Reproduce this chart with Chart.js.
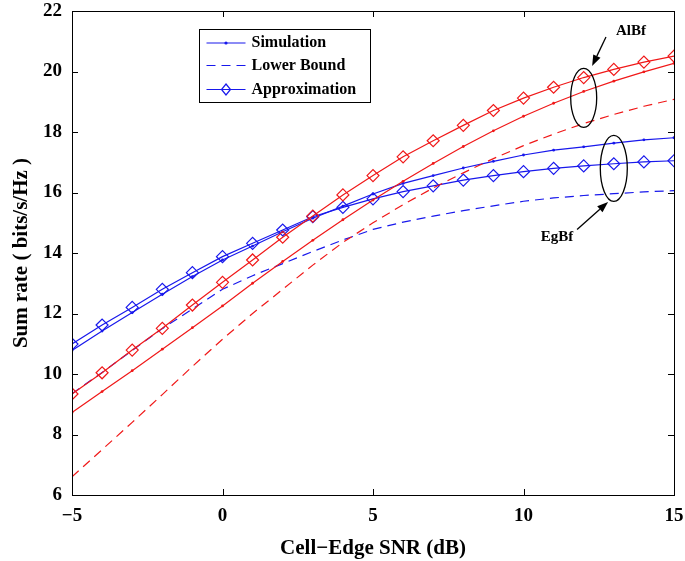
<!DOCTYPE html>
<html>
<head>
<meta charset="utf-8">
<script src="https://cdn.jsdelivr.net/npm/chart.js@4.4.1/dist/chart.umd.min.js"></script>
<style>
  html, body { margin: 0; padding: 0; background: #fff; }
  #wrap { width: 685px; height: 561px; position: relative; }
</style>
</head>
<body>
<div id="wrap"><canvas id="rateChart"></canvas></div>
<script>
// Cell-edge SNR (dB)
const snr = [-5, -4, -3, -2, -1, 0, 1, 2, 3, 4, 5, 6, 7, 8, 9, 10, 11, 12, 13, 14, 15];

// AlBf (red)
const alSimulation = [8.73, 9.42, 10.11, 10.82, 11.53, 12.25, 13.0, 13.72, 14.42, 15.1, 15.75,
    16.37, 16.96, 17.52, 18.04, 18.52, 18.95, 19.34, 19.68, 19.99, 20.27];
const alLowerBound = [6.6, 7.5, 8.4, 9.32, 10.25, 11.15, 12.0, 12.8, 13.6, 14.35, 15.0,
    15.6, 16.15, 16.65, 17.12, 17.55, 17.93, 18.28, 18.58, 18.85, 19.08];
const alApprox = [9.34, 10.04, 10.79, 11.51, 12.28, 13.03, 13.77, 14.52, 15.22, 15.92, 16.56,
    17.18, 17.71, 18.22, 18.71, 19.12, 19.48, 19.8, 20.07, 20.31, 20.51];

// EgBf (blue)
const egSimulation = [10.78, 11.42, 12.03, 12.64, 13.22, 13.77, 14.23, 14.7, 15.15, 15.55, 15.95,
    16.3, 16.56, 16.81, 17.03, 17.24, 17.4, 17.51, 17.63, 17.74, 17.81];
const egLowerBound = [9.35, 10.05, 10.78, 11.5, 12.15, 12.8, 13.25, 13.65, 14.05, 14.43, 14.78,
    15.02, 15.22, 15.4, 15.56, 15.71, 15.82, 15.9, 15.96, 16.02, 16.06];
const egApprox = [10.99, 11.62, 12.2, 12.8, 13.35, 13.88, 14.32, 14.76, 15.2, 15.51, 15.79,
    16.03, 16.22, 16.41, 16.56, 16.69, 16.8, 16.88, 16.95, 17.01, 17.05];

const xTicks = [-5, 0, 5, 10, 15];
const yTicks = [6, 8, 10, 12, 14, 16, 18, 20, 22];

const RED = 'rgb(240,24,24)';
const BLUE = 'rgb(24,24,236)';
const SERIF = '"Liberation Serif", "Times New Roman", serif';
const DASH = [9, 6];

function points(values) {
    return values.map((v, i) => ({ x: snr[i], y: v }));
}

function series(label, values, color, kind) {
    const ds = {
        label: label,
        data: points(values),
        borderColor: color,
        backgroundColor: color,
        borderWidth: 1.2,
        fill: false,
        tension: 0,
        pointRadius: 0,
        pointHoverRadius: 0
    };
    if (kind === 'sim') {
        ds.pointRadius = 1.4;
        ds.pointBorderWidth = 0;
    } else if (kind === 'lb') {
        ds.borderDash = DASH;
    } else {
        ds.pointStyle = 'rectRot';
        ds.pointRadius = 6;
        ds.pointBorderWidth = 1.2;
        ds.pointBackgroundColor = 'rgba(0,0,0,0)';
    }
    return ds;
}

// fixed axis sizes, no label overflow padding (the layout padding handles it)
function fixSize(prop, size) {
    return s => {
        s[prop] = size;
        s.paddingLeft = s.paddingRight = s.paddingTop = s.paddingBottom = 0;
    };
}

// box with inward ticks on all four sides
const frame = {
    id: 'frame',
    afterDatasetsDraw(chart) {
        const { ctx, chartArea: a, scales } = chart;
        ctx.save();
        ctx.strokeStyle = '#000';
        ctx.lineWidth = 1;
        ctx.strokeRect(Math.round(a.left) + 0.5, Math.round(a.top) + 0.5,
            Math.round(a.right - a.left), Math.round(a.bottom - a.top));
        const len = 6;
        ctx.beginPath();
        xTicks.forEach(v => {
            const px = Math.round(scales.x.getPixelForValue(v)) + 0.5;
            ctx.moveTo(px, a.bottom); ctx.lineTo(px, a.bottom - len);
            ctx.moveTo(px, a.top); ctx.lineTo(px, a.top + len);
        });
        yTicks.forEach(v => {
            const py = Math.round(scales.y.getPixelForValue(v)) + 0.5;
            ctx.moveTo(a.left, py); ctx.lineTo(a.left + len, py);
            ctx.moveTo(a.right, py); ctx.lineTo(a.right - len, py);
        });
        ctx.stroke();
        ctx.restore();
    }
};

function arrow(ctx, x1, y1, x2, y2) {
    const ang = Math.atan2(y2 - y1, x2 - x1);
    const head = 11, wing = 4;
    ctx.beginPath();
    ctx.moveTo(x1, y1);
    ctx.lineTo(x2 - head * Math.cos(ang), y2 - head * Math.sin(ang));
    ctx.stroke();
    ctx.beginPath();
    ctx.moveTo(x2, y2);
    ctx.lineTo(x2 - head * Math.cos(ang) + wing * Math.sin(ang), y2 - head * Math.sin(ang) - wing * Math.cos(ang));
    ctx.lineTo(x2 - head * Math.cos(ang) - wing * Math.sin(ang), y2 - head * Math.sin(ang) + wing * Math.cos(ang));
    ctx.closePath();
    ctx.fill();
}

// ellipses, arrows and labels for the two schemes
const notes = {
    id: 'notes',
    afterDatasetsDraw(chart) {
        const { ctx, scales } = chart;
        const X = v => scales.x.getPixelForValue(v);
        const Y = v => scales.y.getPixelForValue(v);
        ctx.save();
        ctx.strokeStyle = '#000';
        ctx.fillStyle = '#000';
        ctx.lineWidth = 1.3;

        ctx.beginPath();
        ctx.ellipse(X(12), Y(19.13), 13, 29.5, 0, 0, Math.PI * 2);
        ctx.stroke();
        ctx.beginPath();
        ctx.ellipse(X(13), Y(16.8), 13.5, 33, 0, 0, Math.PI * 2);
        ctx.stroke();

        arrow(ctx, X(12.74), Y(21.14), X(12.28), Y(20.18));
        arrow(ctx, X(11.78), Y(14.78), X(12.81), Y(15.69));

        ctx.font = 'bold 15px ' + SERIF;
        ctx.textAlign = 'center';
        ctx.textBaseline = 'middle';
        ctx.fillText('AlBf', X(13.57), Y(21.33));
        ctx.fillText('EgBf', X(11.11), Y(14.52));
        ctx.restore();
    }
};

// MATLAB style legend box in the upper left
const legendBox = {
    id: 'legendBox',
    afterDatasetsDraw(chart) {
        const { ctx } = chart;
        const a = chart.chartArea;
        const left = a.left + 127.5, top = a.top + 18.5, w = 171, h = 73;
        ctx.save();
        ctx.fillStyle = '#fff';
        ctx.fillRect(left, top, w, h);
        ctx.strokeStyle = '#000';
        ctx.lineWidth = 1;
        ctx.strokeRect(left, top, w, h);

        const entries = ['Simulation', 'Lower Bound', 'Approximation'];
        const rows = [top + 13.5, top + 36, top + 60];
        ctx.strokeStyle = BLUE;
        ctx.fillStyle = BLUE;
        ctx.lineWidth = 1.2;
        rows.forEach((y, i) => {
            const x1 = left + 7, x2 = left + 46, mid = (x1 + x2) / 2;
            ctx.setLineDash(i === 1 ? DASH : []);
            ctx.beginPath();
            ctx.moveTo(x1, y); ctx.lineTo(x2, y);
            ctx.stroke();
            ctx.setLineDash([]);
            if (i === 0) {
                ctx.beginPath();
                ctx.arc(mid, y, 1.6, 0, Math.PI * 2);
                ctx.fill();
            } else if (i === 2) {
                ctx.beginPath();
                ctx.moveTo(mid, y - 5.5); ctx.lineTo(mid + 4.5, y);
                ctx.lineTo(mid, y + 5.5); ctx.lineTo(mid - 4.5, y);
                ctx.closePath();
                ctx.stroke();
            }
        });
        ctx.fillStyle = '#000';
        ctx.font = 'bold 16px ' + SERIF;
        ctx.textAlign = 'left';
        ctx.textBaseline = 'middle';
        rows.forEach((y, i) => ctx.fillText(entries[i], left + 52, y));
        ctx.restore();
    }
};

const tickFont = { family: SERIF, size: 19, weight: 'bold', lineHeight: 1.2 };
const titleFont = { family: SERIF, size: 21, weight: 'bold', lineHeight: 1.2 };

new Chart(document.getElementById('rateChart'), {
    type: 'line',
    data: {
        datasets: [
            series('AlBf Simulation', alSimulation, RED, 'sim'),
            series('AlBf Lower Bound', alLowerBound, RED, 'lb'),
            series('AlBf Approximation', alApprox, RED, 'approx'),
            series('EgBf Simulation', egSimulation, BLUE, 'sim'),
            series('EgBf Lower Bound', egLowerBound, BLUE, 'lb'),
            series('EgBf Approximation', egApprox, BLUE, 'approx')
        ]
    },
    options: {
        responsive: true,
        maintainAspectRatio: false,
        animation: false,
        layout: { padding: { top: 11, right: 11, left: 0, bottom: 0 } },
        plugins: {
            legend: { display: false },
            tooltip: { enabled: false }
        },
        scales: {
            x: {
                type: 'linear',
                min: -5,
                max: 15,
                afterBuildTicks: s => { s.ticks = xTicks.map(v => ({ value: v })); },
                afterFit: fixSize('height', 66),
                grid: { display: false, drawTicks: false },
                border: { display: false },
                ticks: {
                    color: '#000',
                    font: tickFont,
                    padding: 10,
                    maxRotation: 0,
                    callback: v => String(v).replace('-', '\u2212')
                },
                title: {
                    display: true,
                    text: 'Cell\u2212Edge SNR (dB)',
                    color: '#000',
                    font: titleFont,
                    padding: { top: 0, bottom: 0 }
                }
            },
            y: {
                type: 'linear',
                min: 6,
                max: 22,
                afterBuildTicks: s => { s.ticks = yTicks.map(v => ({ value: v })); },
                afterFit: fixSize('width', 72),
                grid: { display: false, drawTicks: false },
                border: { display: false },
                ticks: {
                    color: '#000',
                    font: tickFont,
                    padding: 10
                },
                title: {
                    display: true,
                    text: 'Sum rate ( bits/s/Hz )',
                    color: '#000',
                    font: titleFont,
                    padding: { top: 9, bottom: 0 }
                }
            }
        }
    },
    plugins: [frame, notes, legendBox]
});
</script>
</body>
</html>
